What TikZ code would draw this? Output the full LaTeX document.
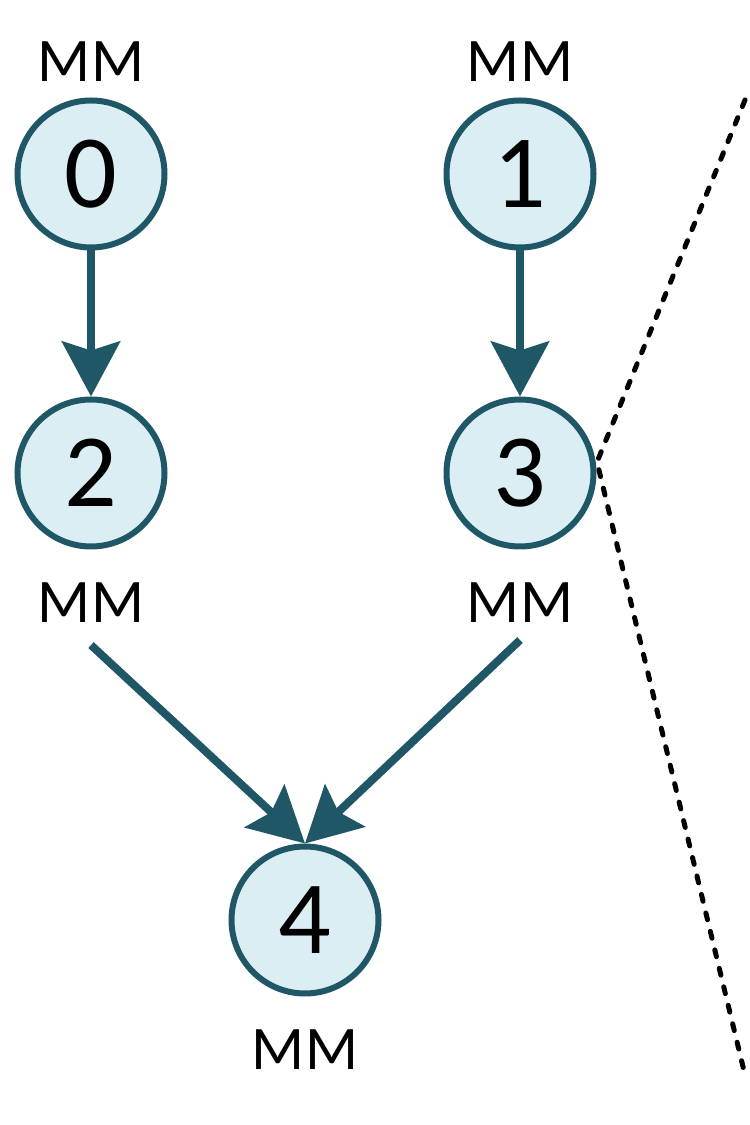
\documentclass[tikz,border=0pt]{standalone}
\usepackage{fontspec}
\setmainfont{Carlito}
\usetikzlibrary{arrows.meta,positioning}
\definecolor{Petrol}{HTML}{1F5767}
\definecolor{IceBlue}{HTML}{DBEEF4}
\tikzset{
 circnode/.style={circle, draw=Petrol, line width=6pt, fill=IceBlue, minimum size=147pt, inner sep=0pt, font=\fontsize{104}{104}\selectfont},
 mmlabel/.style={inner sep=0pt, font=\fontsize{62}{62}\selectfont},
 flowarrow/.style={-{Stealth[length=55pt,width=58pt,inset=9pt]}, line width=8pt, draw=Petrol},
 splitline/.style={line width=5pt, line cap=round, dash pattern=on 7pt off 12pt, draw=black}
}
\begin{document}
\begin{tikzpicture}[x=1pt,y=1pt]
\useasboundingbox (0,0) rectangle (750,1125);
% tree nodes
\node[circnode] (n0) at (91,951) {0};
\node[circnode] (n1) at (520,951) {1};
\node[circnode] (n2) at (91,652) {2};
\node[circnode] (n3) at (520,652) {3};
\node[circnode] (n4) at (305,205) {4};
% labels
\node[mmlabel] (l0) at (91,1063) {MM};
\node[mmlabel] (l1) at (520,1063) {MM};
\node[mmlabel] (l2) at (91,522) {MM};
\node[mmlabel] (l3) at (520,522) {MM};
\node[mmlabel] (l4) at (305,75) {MM};
% edges
\draw[flowarrow] (n0) -- (n2);
\draw[flowarrow] (n1) -- (n3);
\draw[flowarrow] ([yshift=-22pt]l2.south) -- (n4.north);
\draw[flowarrow] ([yshift=-17pt]l3.south) -- (n4.north);
% split
\coordinate (top) at (745,1025);
\coordinate (cut) at (597,663);
\coordinate (bot) at (745,50);
\draw[splitline] (top) -- (cut) -- (bot);
\end{tikzpicture}
\end{document}
